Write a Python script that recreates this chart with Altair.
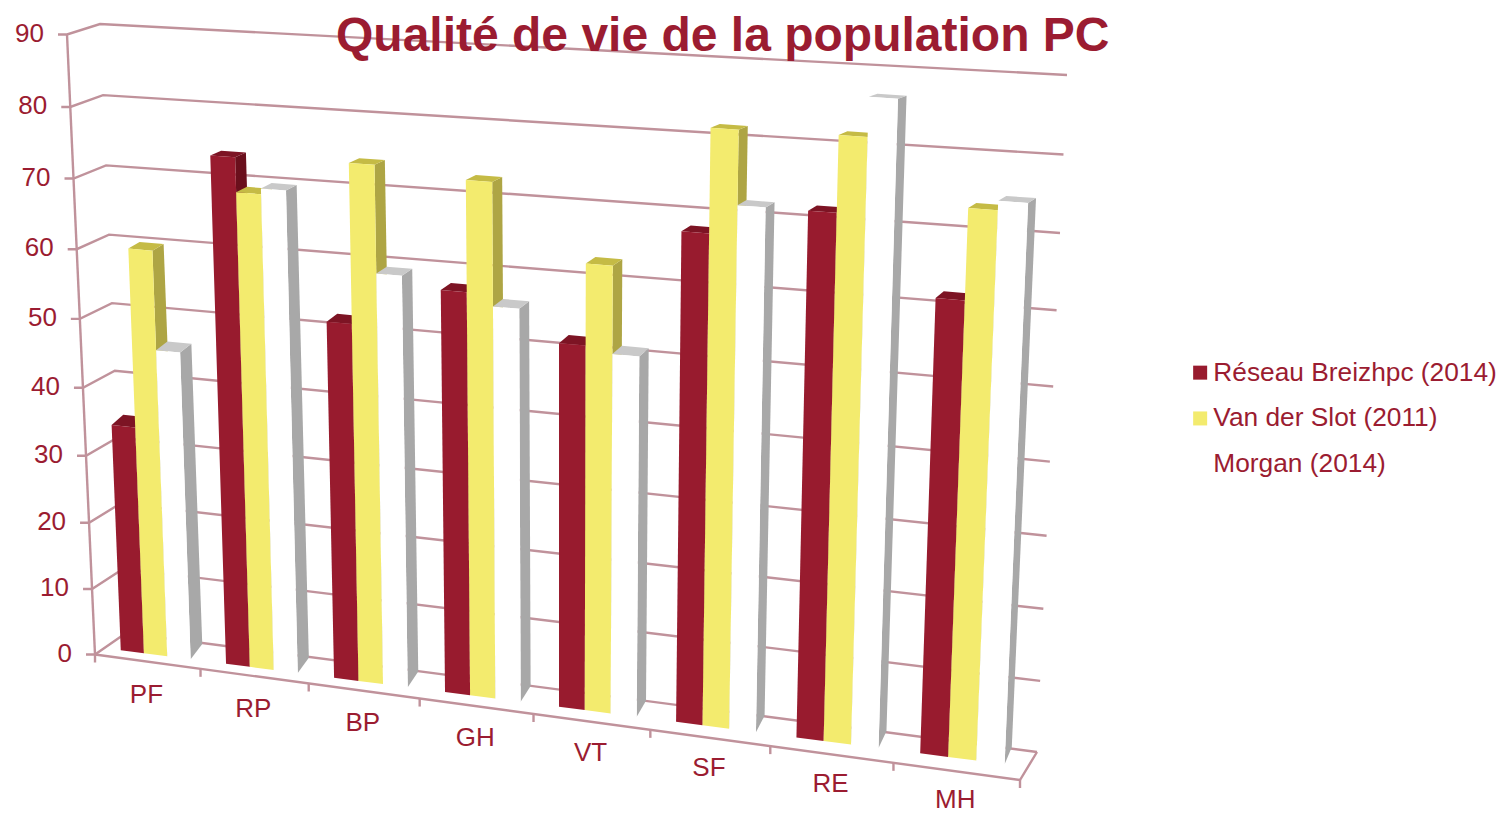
import altair as alt
import numpy as np
import pandas as pd

TITLE = "Qualité de vie de la population PC"
CATEGORIES = ["PF", "RP", "BP", "GH", "VT", "SF", "RE", "MH"]
SERIES = ["Réseau Breizhpc (2014)", "Van der Slot (2011)", "Morgan (2014)"]
RESEAU = [33.5, 73.0, 51.3, 57.1, 51.3, 67.7, 71.7, 61.7]
VANDERSLOT = [59.1, 68.2, 73.4, 72.3, 62.4, 81.5, 81.7, 73.6]
MORGAN = [45.0, 69.0, 58.6, 55.5, 50.5, 71.7, 86.8, 74.8]
TICKS = [0, 10, 20, 30, 40, 50, 60, 70, 80, 90]

FRONT_COLORS = ["#981b2e", "#f3eb6e", "#ffffff"]
SIDE_COLORS = ["#6a0f1c", "#aea544", "#a8a8a8"]
TOP_COLORS = ["#7d1424", "#c5bb45", "#c9c9c9"]
INK = "#9b1c31"
GRID = "#c0929b"
FONT = "Liberation Sans"


def homography(c00, c10, c11, c01, warp=0.0):
    src = [(0, 0), (8, 0), (8, 90), (0, 90)]
    dst = [c00, c10, c11, c01]
    A, b = [], []
    for (u, v), (x, y) in zip(src, dst):
        A.append([u, v, 1, 0, 0, 0, -u * x, -v * x])
        A.append([0, 0, 0, u, v, 1, -u * y, -v * y])
        b += [x, y]
    h = np.append(np.linalg.solve(np.array(A, float), np.array(b, float)), 1).reshape(3, 3)

    def project(u, v):
        u = u - warp * u * (8 - u)
        p = h @ np.array([u, v, 1.0])
        return p[0] / p[2], p[1] / p[2]

    return project


EDGE = homography((95, 654.5), (1020, 780), (1050, 96), (67, 34.5))
WALL = homography((126, 633), (1037, 752), (1067, 75), (100, 24))
BAR_FRONT = homography((103.5, 648), (1026, 767), (1056, 83), (77, 22), warp=0.0018)
BAR_BACK = homography((115.5, 633), (1033, 750), (1064, 80.5), (88, 19.5), warp=0.0018)

MARGIN = 1 / 6
BAR_W = (1 - 2 * MARGIN) / 3

faces = []
for c in range(len(CATEGORIES)):
    for s, vals in enumerate([RESEAU, VANDERSLOT, MORGAN]):
        v = vals[c]
        u0 = c + MARGIN + s * BAR_W
        u1 = u0 + BAR_W
        quads = [
            (f"{SERIES[s]} côté", [BAR_FRONT(u1, v), BAR_BACK(u1, v), BAR_BACK(u1, 0), BAR_FRONT(u1, 0)]),
            (f"{SERIES[s]} haut", [BAR_FRONT(u0, v), BAR_FRONT(u1, v), BAR_BACK(u1, v), BAR_BACK(u0, v)]),
            (SERIES[s], [BAR_FRONT(u0, v), BAR_FRONT(u1, v), BAR_FRONT(u1, 0), BAR_FRONT(u0, 0)]),
        ]
        for q, (shade, pts) in enumerate(quads):
            for k, (x, y) in enumerate(pts):
                faces.append(dict(face=f"{c:02d}{s}{q}", shade=shade, k=k, x=x, y=y))
faces = pd.DataFrame(faces)

lines = []


def add_line(name, pts):
    for k, (x, y) in enumerate(pts):
        lines.append(dict(line=name, k=k, x=x, y=y))


for t in TICKS:
    ex, ey = EDGE(0, t)
    add_line(f"g{t}", [(ex - 9, ey), (ex, ey), WALL(0, t), WALL(8, t)])
add_line("axis", [EDGE(0, 0), EDGE(0, 90)])
add_line("floor", [EDGE(0, 0), EDGE(8, 0), WALL(8, 0)])
for i in range(9):
    x0, y0 = EDGE(i, 0)
    add_line(f"t{i}", [(x0, y0), (x0, y0 + 8)])
lines = pd.DataFrame(lines)

tick_labels = pd.DataFrame(
    [dict(label=str(t), x=EDGE(0, t)[0] - 23, y=EDGE(0, t)[1] - 1) for t in TICKS]
)
cat_labels = pd.DataFrame(
    [
        dict(label=n, x=EDGE(i + 0.5, 0)[0] - 1, y=EDGE(i + 0.5, 0)[1] + 33 - 4 * i / 7)
        for i, n in enumerate(CATEGORIES)
    ]
)

sx = alt.Scale(domain=[8, 1498], range=[0, 1490], nice=False, zero=False)
sy = alt.Scale(domain=[813, 8], range=[805, 0], nice=False, zero=False)
X = alt.X("x:Q", scale=sx, axis=None)
Y = alt.Y("y:Q", scale=sy, axis=None)

grid = alt.Chart(lines).mark_line(color=GRID, strokeWidth=2.4).encode(
    x=X, y=Y, detail="line:N", order="k:Q"
)

domain = SERIES + [f"{s} côté" for s in SERIES] + [f"{s} haut" for s in SERIES]
colors = FRONT_COLORS + SIDE_COLORS + TOP_COLORS
bars = alt.Chart(faces).mark_line(strokeWidth=0).encode(
    x=X,
    y=Y,
    detail="face:N",
    order="k:Q",
    fill=alt.Fill(
        "shade:N",
        scale=alt.Scale(domain=domain, range=colors),
        legend=alt.Legend(
            values=SERIES,
            title=None,
            orient="none",
            legendX=1179,
            legendY=351.5,
            symbolType="square",
            symbolSize=196,
            symbolStrokeWidth=0,
            symbolOpacity=1,
            labelFont=FONT,
            labelFontSize=26.3,
            labelColor=INK,
            labelOffset=0,
            labelLimit=400,
            rowPadding=18.8,
            padding=0,
        ),
    ),
)

tick_text = alt.Chart(tick_labels).mark_text(
    font=FONT, fontSize=26, color=INK, align="right", baseline="middle"
).encode(x=X, y=Y, text="label:N")
cat_text = alt.Chart(cat_labels).mark_text(
    font=FONT, fontSize=26, color=INK, align="center", baseline="middle"
).encode(x=X, y=Y, text="label:N")

chart = (
    alt.layer(grid, bars, tick_text, cat_text)
    .properties(
        width=1490,
        height=805,
        padding=0,
        autosize=alt.AutoSizeParams(type="none"),
        title=alt.TitleParams(
            TITLE,
            anchor="start",
            frame="group",
            dx=328,
            dy=91,
            offset=0,
            baseline="alphabetic",
            font=FONT,
            fontSize=48,
            fontWeight="bold",
            color=INK,
        ),
    )
    .configure_view(stroke=None)
)
chart.save("out.html", embed_options={"renderer": "svg", "actions": False})
